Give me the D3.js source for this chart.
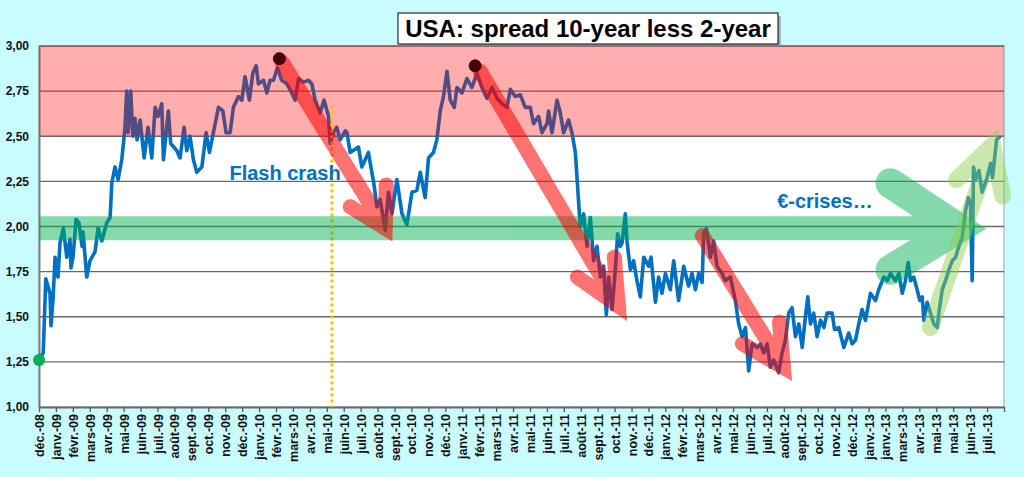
<!DOCTYPE html>
<html>
<head>
<meta charset="utf-8">
<script src="https://cdn.jsdelivr.net/npm/d3@7"></script>
<style>
  html, body { margin: 0; padding: 0; background: #c9fcff; }
  svg { display: block; }
  text { font-family: "Liberation Sans", Arial, sans-serif; }
</style>
</head>
<body>
<div id="chart"></div>
<script>
// month labels (one per category tick, Excel style)
const monthLabels = ["déc.-08","janv.-09","févr.-09","mars-09","avr.-09","mai-09","juin-09","juil.-09","août-09","sept.-09","oct.-09","nov.-09",
  "déc.-09","janv.-10","févr.-10","mars-10","avr.-10","mai-10","juin-10","juil.-10","août-10","sept.-10","oct.-10","nov.-10",
  "déc.-10","janv.-11","févr.-11","mars-11","avr.-11","mai-11","juin-11","juil.-11","août-11","sept.-11","oct.-11","nov.-11",
  "déc.-11","janv.-12","févr.-12","mars-12","avr.-12","mai-12","juin-12","juil.-12","août-12","sept.-12","oct.-12","nov.-12",
  "déc.-12","janv.-13","janv.-13","mars-13","avr.-13","mai-13","mai-13","juin-13","juil.-13"];
const yTicks = [1, 1.25, 1.5, 1.75, 2, 2.25, 2.5, 2.75, 3];

// time in "label ticks" since déc.-08, and the 10y-2y spread (%)
const obsT = [0,0.25,0.40,0.65,0.71,0.83,0.95,1.12,1.24,1.44,1.64,1.83,1.89,2.01,2.19,2.36,2.54,2.60,2.82,3.01,
  3.31,3.49,3.71,4.00,4.20,4.30,4.49,4.67,4.89,5.08,5.18,5.26,5.42,5.54,5.67,5.79,5.97,6.21,6.44,6.66,
  6.86,7.03,7.25,7.35,7.64,7.78,8.14,8.33,8.57,8.73,8.92,9.12,9.32,9.62,9.87,10.07,10.30,10.60,10.86,11.05,
  11.29,11.48,11.78,11.98,12.17,12.43,12.63,12.83,12.96,13.26,13.46,13.65,13.85,14.08,14.34,14.64,14.93,15.13,15.33,15.62,
  15.92,16.12,16.31,16.61,16.84,17.10,17.20,17.39,17.59,17.79,18.09,18.19,18.38,18.87,19.07,19.46,19.66,19.76,19.96,20.15,
  20.45,20.64,20.85,21.14,21.44,21.73,22.03,22.32,22.52,22.81,23.01,23.30,23.50,23.70,23.89,24.10,24.29,24.53,24.69,24.98,
  25.28,25.57,25.87,26.16,26.46,26.76,27.05,27.35,27.64,27.84,28.13,28.43,28.72,29.02,29.21,29.51,29.71,30.01,30.10,30.30,
  30.60,30.79,30.99,31.28,31.48,31.68,31.87,31.97,32.17,32.37,32.57,32.76,32.96,33.16,33.35,33.51,33.65,33.85,34.04,34.18,
  34.34,34.44,34.63,34.73,34.93,35.12,35.32,35.52,35.72,36.01,36.15,36.41,36.60,36.80,37.00,37.29,37.49,37.78,38.08,38.37,
  38.57,38.77,38.97,39.17,39.26,39.42,39.66,39.85,40.05,40.35,40.54,40.84,41.13,41.33,41.53,41.73,41.92,42.12,42.42,42.61,
  42.81,43.01,43.20,43.40,43.69,43.89,44.09,44.28,44.48,44.68,44.88,45.08,45.27,45.41,45.57,45.76,45.96,46.16,46.36,46.55,
  46.85,46.99,47.24,47.54,47.83,48.03,48.23,48.42,48.62,48.82,49.11,49.41,49.60,49.90,50.10,50.30,50.59,50.79,50.99,51.18,
  51.34,51.48,51.67,51.87,52.03,52.17,52.27,52.46,52.66,52.86,53.06,53.15,53.35,53.55,53.74,53.94,54.14,54.33,54.53,54.73,
  54.89,55.02,55.12,55.20,55.32,55.52,55.71,56.00,56.21,56.32,56.56,56.77];
const spread = [1.26,1.30,1.71,1.63,1.45,1.60,1.83,1.72,1.91,1.99,1.83,1.93,1.77,1.83,2.04,2.02,1.89,1.97,1.72,1.81,
  1.86,1.99,1.92,2.02,2.05,2.24,2.33,2.26,2.37,2.55,2.75,2.52,2.75,2.50,2.60,2.48,2.59,2.38,2.55,2.38,
  2.66,2.61,2.68,2.37,2.64,2.46,2.42,2.38,2.55,2.42,2.50,2.37,2.30,2.33,2.52,2.41,2.52,2.66,2.64,2.52,
  2.52,2.66,2.72,2.70,2.83,2.70,2.85,2.89,2.79,2.81,2.74,2.81,2.81,2.88,2.81,2.79,2.74,2.70,2.82,2.80,
  2.81,2.79,2.70,2.63,2.70,2.61,2.46,2.52,2.55,2.48,2.53,2.52,2.41,2.44,2.33,2.41,2.30,2.25,2.11,2.15,
  1.98,2.19,2.07,2.26,2.07,2.01,2.19,2.20,2.30,2.16,2.38,2.41,2.48,2.64,2.72,2.86,2.70,2.66,2.77,2.74,
  2.82,2.77,2.85,2.77,2.71,2.77,2.71,2.68,2.66,2.76,2.72,2.73,2.66,2.66,2.57,2.61,2.52,2.57,2.64,2.52,
  2.70,2.63,2.52,2.59,2.52,2.41,2.14,2.00,2.07,1.89,2.05,1.81,1.89,1.72,1.78,1.51,1.72,1.54,1.76,1.96,
  1.89,1.91,2.07,1.92,1.76,1.81,1.70,1.61,1.83,1.78,1.83,1.58,1.72,1.63,1.74,1.65,1.81,1.59,1.78,1.67,
  1.74,1.65,1.74,1.69,1.96,1.99,1.83,1.92,1.78,1.74,1.70,1.72,1.59,1.46,1.39,1.44,1.20,1.35,1.33,1.35,
  1.30,1.35,1.22,1.26,1.19,1.30,1.37,1.52,1.55,1.39,1.46,1.33,1.50,1.61,1.46,1.52,1.39,1.48,1.44,1.52,
  1.52,1.43,1.44,1.33,1.41,1.35,1.37,1.46,1.54,1.48,1.63,1.59,1.65,1.72,1.70,1.74,1.70,1.74,1.63,1.70,
  1.80,1.70,1.72,1.65,1.59,1.61,1.48,1.58,1.52,1.46,1.44,1.52,1.65,1.70,1.76,1.81,1.83,1.89,1.94,2.09,
  2.16,2.13,1.70,2.33,2.26,2.31,2.19,2.27,2.35,2.27,2.48,2.50];

// highlighted points [t, value]
const startPoint = [0, 1.26];
const peakPoints = [[14.2, 2.93], [25.76, 2.89]];
const flashCrashT = 17.3;

// annotation arrows, in [t, value] pairs
const redArrows = [
  { shaft: [[14.36, 2.91], [20.45, 1.99]], head: [[18.38, 2.11], [20.45, 1.99], [20.51, 2.23]] },
  { shaft: [[26.06, 2.86], [34.22, 1.56]], head: [[31.80, 1.72], [34.22, 1.56], [33.98, 1.83]] },
  { shaft: [[39.18, 1.95], [43.97, 1.22]], head: [[41.55, 1.35], [43.97, 1.22], [43.74, 1.47]] }
];
const greenArrow = { shaft: [[0, 1.99], [54.3, 1.99]], head: [[50.3, 2.24], [54.31, 1.99], [50.3, 1.76]] };
const limeArrow = { shaft: [[52.66, 1.44], [56.32, 2.45]], head: [[54.2, 2.26], [56.32, 2.45], [56.92, 2.17]] };

const W = 1024, H = 477;
const x = d3.scaleLinear().domain([0, 57]).range([39, 1004]);
const y = d3.scaleLinear().domain([1, 3]).range([407, 46]);

const svg = d3.select("#chart").append("svg").attr("width", W).attr("height", H);
svg.append("rect").attr("width", W).attr("height", H).attr("fill", "#c9fcff");

// plot area
svg.append("rect")
  .attr("x", x(0)).attr("y", y(3))
  .attr("width", x(57) - x(0)).attr("height", y(1) - y(3))
  .attr("fill", "#fff").attr("stroke", "#a0a0a0").attr("stroke-width", 1);

// grid
svg.append("g").selectAll("line")
  .data(yTicks.filter(d => d > 1))
  .join("line")
  .attr("x1", x(0)).attr("x2", x(57))
  .attr("y1", d => y(d)).attr("y2", d => y(d))
  .attr("stroke", "#6a6a6a").attr("stroke-width", 1.3);

// y axis
const yAxis = svg.append("g").attr("transform", `translate(${x(0)},0)`)
  .call(d3.axisLeft(y).tickValues(yTicks).tickSize(0).tickPadding(10)
    .tickFormat(d => d3.format(".2f")(d).replace(".", ",")));
yAxis.select(".domain").attr("stroke", "#808080").attr("stroke-width", 2);
yAxis.selectAll("text").attr("font-size", 12).attr("font-weight", "bold").attr("fill", "#111");

// x axis
const xAxis = svg.append("g").attr("transform", `translate(0,${y(1)})`)
  .call(d3.axisBottom(x).tickValues(d3.range(58)).tickSize(5).tickSizeOuter(0)
    .tickFormat(i => monthLabels[i] || ""));
xAxis.select(".domain").attr("stroke", "#6a6a6a").attr("stroke-width", 2);
xAxis.selectAll(".tick line").attr("stroke", "#555").attr("stroke-width", 1.3);
xAxis.selectAll("text")
  .attr("font-size", 12.5).attr("font-weight", "bold").attr("fill", "#111")
  .attr("text-anchor", "end")
  .attr("transform", "rotate(-90)")
  .attr("x", -7).attr("y", 0).attr("dy", "0.36em");

// series
const line = d3.line().x((d, i) => x(obsT[i])).y(d => y(d));
svg.append("path").datum(spread)
  .attr("d", line)
  .attr("fill", "none").attr("stroke", "#0070c0")
  .attr("stroke-width", 3.6).attr("stroke-linejoin", "round");

// red zone overlay
svg.append("rect")
  .attr("x", x(0)).attr("y", y(3))
  .attr("width", x(57) - x(0)).attr("height", y(2.5) - y(3))
  .attr("fill", "#ff0000").attr("opacity", 0.32);

// flash crash marker
svg.append("line")
  .attr("x1", x(flashCrashT)).attr("x2", x(flashCrashT))
  .attr("y1", y(2.67)).attr("y2", y(1))
  .attr("stroke", "#ffc000").attr("stroke-width", 3).attr("stroke-dasharray", "3,3");

const pathOf = pts => d3.line().x(p => x(p[0])).y(p => y(p[1]))(pts);

function drawArrow(a, color, opacity, shaftW, headW, shaftCap) {
  const g = svg.append("g").attr("opacity", opacity);
  g.append("path").attr("d", pathOf(a.shaft))
    .attr("fill", "none").attr("stroke", color).attr("stroke-width", shaftW)
    .attr("stroke-linecap", shaftCap);
  g.append("path").attr("d", pathOf(a.head))
    .attr("fill", "none").attr("stroke", color).attr("stroke-width", headW)
    .attr("stroke-linecap", "round").attr("stroke-linejoin", "miter").attr("stroke-miterlimit", 10);
}

drawArrow(greenArrow, "#00b050", 0.48, 24, 30, "butt");
redArrows.forEach(a => drawArrow(a, "#ff0000", 0.55, 15, 15, "round"));
drawArrow(limeArrow, "#92d050", 0.47, 17, 17, "round");

// points
svg.append("circle").attr("cx", x(startPoint[0])).attr("cy", y(startPoint[1])).attr("r", 6)
  .attr("fill", "#00b050");
svg.selectAll(".peak").data(peakPoints).join("circle")
  .attr("class", "peak")
  .attr("cx", d => x(d[0])).attr("cy", d => y(d[1])).attr("r", 6)
  .attr("fill", "#4a0008").attr("stroke", "#300000").attr("stroke-width", 1);

// annotation texts
svg.append("text").attr("x", x(11.25)).attr("y", y(2.255))
  .attr("font-family", "'Open Sans', sans-serif").attr("font-weight", "bold")
  .attr("font-size", 20).attr("fill", "#0070c0").text("Flash crash");
svg.append("text").attr("x", x(43.6)).attr("y", y(2.105))
  .attr("font-family", "'Open Sans', sans-serif").attr("font-weight", "bold")
  .attr("font-size", 20).attr("fill", "#0070c0").text("€-crises…");

// title box
const tg = svg.append("g");
tg.append("rect").attr("x", 401).attr("y", 16).attr("width", 380).attr("height", 31)
  .attr("fill", "#7f7f7f").attr("opacity", 0.55);
tg.append("rect").attr("x", 398).attr("y", 13).attr("width", 380).attr("height", 31)
  .attr("fill", "#fff").attr("stroke", "#000").attr("stroke-width", 1);
tg.append("text").attr("x", 588).attr("y", 37).attr("text-anchor", "middle")
  .attr("font-size", 24).attr("font-weight", "bold").attr("fill", "#000")
  .text("USA: spread 10-year less 2-year");
</script>
</body>
</html>
